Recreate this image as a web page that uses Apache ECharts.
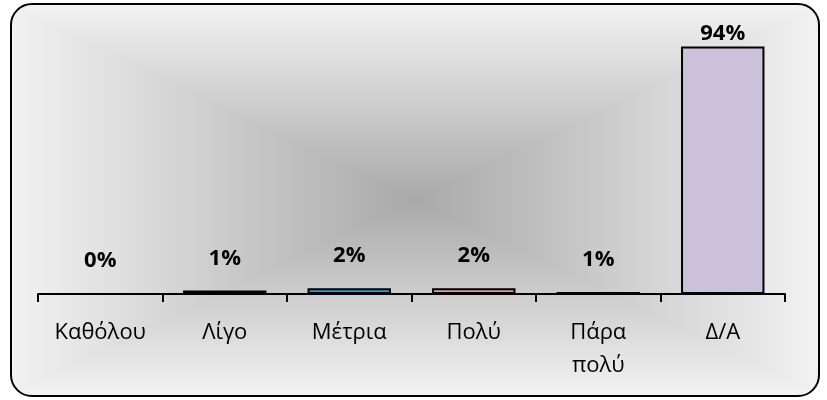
<!DOCTYPE html>
<html>
<head>
<meta charset="utf-8">
<script src="https://cdn.jsdelivr.net/npm/echarts@6/dist/echarts.min.js"></script>
<style>
  html, body { margin: 0; padding: 0; background: #ffffff; }
  #wrap { position: relative; width: 827px; height: 400px; }
  #bg {
    position: absolute; left: 10px; top: 3px; width: 806px; height: 390px;
    border: 2px solid #000; border-radius: 22px;
    background-image:
      linear-gradient(to right, #f2f2f2 0%, #a9a9a9 50%, #f2f2f2 100%),
      linear-gradient(to bottom, #f2f2f2 0%, #a9a9a9 50%, #f2f2f2 100%);
    background-blend-mode: lighten;
  }
  #chart { position: absolute; left: 0; top: 0; width: 827px; height: 400px; }
</style>
</head>
<body>
<div id="wrap">
  <div id="bg"></div>
  <div id="chart"></div>
</div>
<script>
const categories = ['Καθόλου', 'Λίγο', 'Μέτρια', 'Πολύ', 'Πάρα\nπολύ', 'Δ/Α'];
const values = [0, 1.3, 2.2, 2.2, 0.8, 94.1];
const barColors = ['#808080', '#9bbb59', '#1aa3e0', '#e39b9b', '#303030', '#ccc1da'];

const chart = echarts.init(document.getElementById('chart'), null, { renderer: 'canvas' });
const data = values.map((v, i) => {
  const item = { value: v, itemStyle: { color: barColors[i] } };
  if (i === values.length - 1) item.label = { distance: 2 };
  return item;
});
chart.setOption({
  backgroundColor: 'transparent',
  animation: false,
  grid: { left: 38, right: 42, top: 31, bottom: 106, containLabel: false },
  xAxis: {
    type: 'category',
    data: categories,
    boundaryGap: true,
    axisLine: { show: true, lineStyle: { color: '#000', width: 2 } },
    axisTick: { show: true, length: 8, alignWithLabel: false, lineStyle: { color: '#000', width: 2 } },
    axisLabel: {
      color: '#000', fontFamily: 'Open Sans', fontSize: 22, lineHeight: 33,
      margin: 22, interval: 0
    }
  },
  yAxis: {
    type: 'value', min: 0, max: 100, show: false,
    splitLine: { show: false }
  },
  series: [{
    type: 'bar',
    data: data,
    barWidth: '67%',
    itemStyle: { borderColor: '#000', borderWidth: 2 },
    label: {
      show: true, position: 'top', distance: 21,
      fontFamily: 'Open Sans', fontWeight: 'bold', fontSize: 22, color: '#000',
      formatter: p => Math.round(p.value) + '%'
    }
  }]
});
</script>
</body>
</html>
